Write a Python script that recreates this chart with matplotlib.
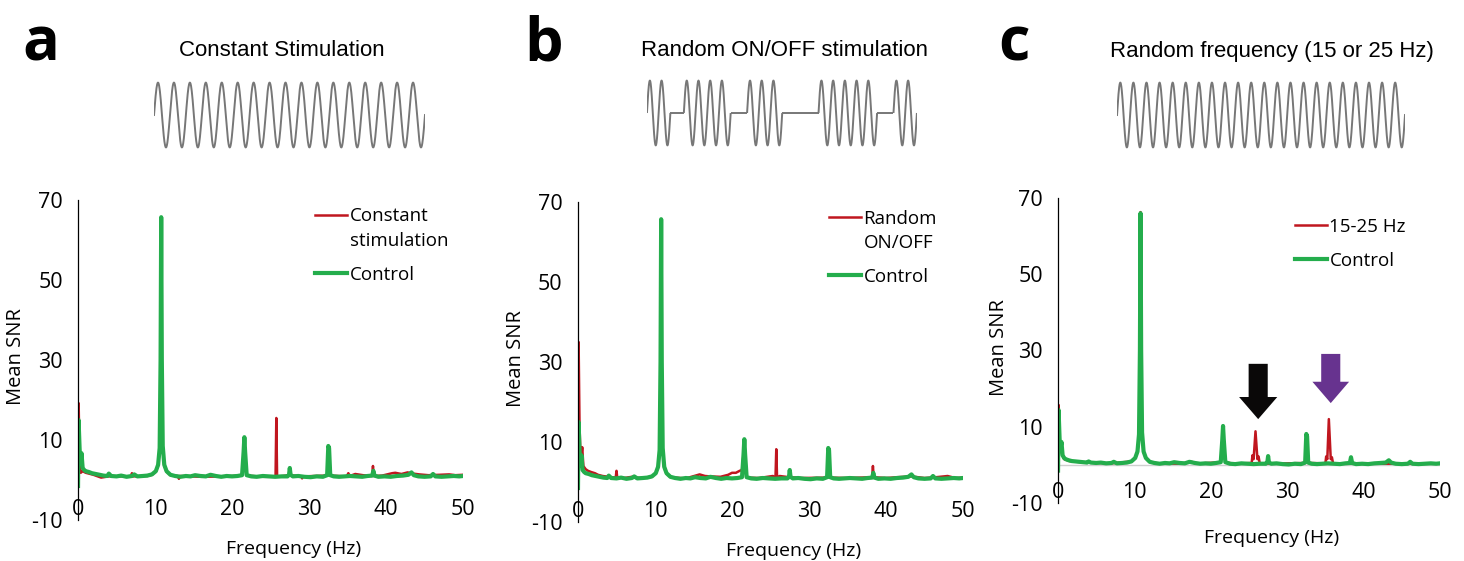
import matplotlib.pyplot as plt
import numpy as np

plt.rcParams['axes.unicode_minus'] = False
plt.rcParams['font.family'] = ['Open Sans', 'DejaVu Sans']

# Datos (Mean SNR vs frecuencia)
ctrl_f = [0.0, 0.07, 0.2, 0.3, 0.45, 0.6, 0.8, 1.0, 1.4, 1.8, 2.3, 2.8, 3.3, 3.8, 4.0, 4.3,
          5.0, 5.6, 6.3, 7.0, 7.3, 7.7, 8.4, 9.0, 9.6, 10.1, 10.4, 10.6, 10.72, 10.8, 10.88,
          11.0, 11.2, 11.5, 12.0, 12.6, 13.3, 14.0, 14.6, 15.2, 15.9, 16.6, 17.2, 17.9, 18.6,
          19.3, 20.0, 20.7, 21.3, 21.5, 21.6, 21.7, 21.9, 22.5, 23.2, 24.0, 24.8, 25.6, 26.4,
          27.2, 27.4, 27.5, 27.6, 27.9, 28.6, 29.4, 30.2, 31.0, 31.8, 32.35, 32.5, 32.6, 32.75,
          33.2, 33.9, 34.6, 35.3, 36.1, 36.9, 37.6, 38.2, 38.35, 38.5, 39.0, 39.8, 40.6, 41.4,
          42.2, 42.9, 43.3, 43.6, 44.2, 45.0, 45.8, 46.1, 46.4, 47.2, 48.0, 48.8, 49.5, 50.0]
ctrl_ab = [-1.5, 15.0, 8.0, 4.0, 6.7, 3.0, 2.5, 2.2, 2.0, 1.7, 1.5, 1.3, 1.1, 1.0, 1.6, 1.0,
           0.9, 1.1, 0.8, 1.0, 1.4, 0.9, 1.0, 1.1, 1.4, 2.2, 3.8, 8.0, 30.0, 65.7, 30.0,
           8.5, 3.8, 2.2, 1.3, 1.0, 0.8, 1.0, 0.9, 1.2, 1.0, 0.9, 1.3, 1.0, 0.8, 1.0, 0.9,
           1.0, 1.2, 7.0, 10.7, 7.0, 1.2, 0.9, 0.8, 1.0, 0.9, 0.8, 0.9, 0.9, 1.3, 3.0, 1.3,
           0.9, 1.0, 0.8, 0.7, 0.9, 0.8, 1.2, 8.5, 8.0, 1.2, 0.9, 0.8, 0.9, 1.0, 0.9, 0.8,
           1.0, 1.1, 2.3, 1.1, 0.8, 0.9, 0.8, 1.0, 1.1, 1.3, 1.9, 1.2, 0.9, 0.8, 0.9, 1.5,
           0.9, 0.8, 0.9, 1.0, 0.9, 1.0]
ctrl_c = [-1.5, 14.4, 7.0, 4.0, 6.0, 2.5, 1.8, 1.5, 1.2, 1.0, 0.9, 0.8, 0.7, 0.6, 0.9, 0.6,
          0.5, 0.6, 0.4, 0.5, 0.8, 0.4, 0.5, 0.6, 0.9, 1.8, 3.5, 8.0, 30.0, 66.0, 30.0,
          8.5, 3.5, 1.8, 0.8, 0.5, 0.3, 0.5, 0.4, 0.7, 0.5, 0.4, 0.8, 0.5, 0.3, 0.4, 0.3,
          0.5, 0.7, 6.5, 10.2, 6.5, 0.7, 0.3, 0.2, 0.4, 0.3, 0.2, 0.3, 0.3, 0.7, 2.3, 0.7,
          0.3, 0.4, 0.2, 0.1, 0.3, 0.2, 0.6, 8.1, 7.5, 0.6, 0.3, 0.2, 0.3, 0.4, 0.3, 0.2,
          0.4, 0.5, 2.0, 0.5, 0.2, 0.3, 0.2, 0.4, 0.5, 0.6, 1.2, 0.6, 0.3, 0.2, 0.3, 0.8,
          0.3, 0.2, 0.3, 0.4, 0.3, 0.4]

const_f = [0.0, 0.08, 0.2, 0.35, 0.6, 1.0, 2.0, 3.0, 4.0, 6.0, 6.9, 7.0, 7.1, 9.0, 9.6,
           10.1, 10.4, 10.6, 10.72, 10.8, 10.88, 11.0, 11.2, 11.5, 12.0, 13.0, 13.1, 13.2,
           16.0, 19.0, 21.3, 21.5, 21.6, 21.7, 21.9, 24.0, 25.65, 25.75, 25.85, 27.4, 27.5,
           27.6, 29.0, 29.1, 29.2, 32.35, 32.5, 32.7, 34.9, 35.1, 35.3, 36.0, 37.0, 38.2,
           38.3, 38.4, 39.5, 40.8, 41.2, 42.0, 42.8, 43.5, 44.3, 45.5, 47.0, 48.2, 49.0, 50.0]
const_a = [-0.5, 19.2, 4.0, 1.8, 2.2, 1.8, 1.3, 0.6, 0.9, 0.9, 0.9, 1.7, 0.9, 1.0, 1.3,
           2.1, 3.6, 7.5, 28.0, 65.0, 28.0, 8.0, 3.6, 2.1, 1.2, 1.0, 0.3, 1.0,
           0.8, 0.9, 1.1, 6.5, 10.2, 6.5, 1.1, 0.8, 0.8, 15.5, 0.8, 1.2, 2.6,
           1.2, 0.9, 0.4, 0.9, 1.1, 8.0, 1.1, 0.9, 1.7, 1.0, 1.5, 1.2, 1.0,
           3.5, 1.0, 1.1, 1.7, 1.8, 1.5, 1.9, 1.6, 1.4, 1.2, 1.3, 1.4, 1.2, 1.3]

onoff_f = [0.0, 0.08, 0.2, 0.35, 0.55, 0.7, 1.0, 1.3, 1.7, 2.2, 2.6, 3.2, 4.0, 4.9, 5.0,
           5.1, 6.0, 7.0, 8.0, 9.6, 10.1, 10.4, 10.6, 10.72, 10.8, 10.88, 11.0, 11.2, 11.5,
           12.0, 14.0, 15.8, 16.5, 17.2, 18.5, 19.5, 20.0, 20.5, 21.0, 21.3, 21.5, 21.6,
           21.7, 21.9, 23.5, 25.3, 25.65, 25.75, 25.85, 26.2, 27.4, 27.5, 27.6, 29.0, 32.35,
           32.5, 32.7, 35.0, 38.2, 38.3, 38.4, 40.0, 41.5, 43.3, 45.0, 46.5, 48.0, 49.0, 50.0]
onoff_b = [-0.5, 35.0, 14.0, 5.0, 8.7, 4.0, 3.2, 2.8, 2.5, 2.2, 1.8, 1.5, 1.3, 1.1, 2.8,
           1.1, 1.0, 1.3, 1.0, 1.3, 2.2, 3.6, 7.5, 28.0, 64.0, 28.0, 8.0, 3.6, 2.1,
           1.2, 0.9, 1.9, 1.5, 1.4, 1.3, 1.8, 2.3, 2.3, 2.8, 3.0, 7.0, 10.4,
           7.0, 1.1, 1.0, 1.5, 1.2, 8.2, 1.2, 1.5, 1.2, 2.6, 1.2, 1.0, 1.1,
           8.0, 1.1, 1.0, 1.2, 4.0, 1.2, 1.0, 1.2, 1.4, 1.0, 1.2, 1.5, 1.0, 1.1]

rand_f = [0.0, 0.08, 0.25, 0.5, 0.8, 1.5, 3.0, 5.0, 7.0, 9.6, 10.1, 10.4, 10.6, 10.72, 10.8,
          10.88, 11.0, 11.2, 11.5, 12.0, 13.0, 16.0, 17.5, 18.0, 21.3, 21.5, 21.6, 21.7, 21.9,
          23.0, 25.35, 25.45, 25.6, 25.85, 26.1, 26.25, 26.4, 28.0, 32.4, 32.55, 32.7, 35.0,
          35.1, 35.25, 35.45, 35.7, 35.85, 36.0, 38.2, 38.3, 38.4, 41.0, 44.0, 47.0, 50.0]
rand_c = [-0.5, 15.7, 5.0, 3.0, 1.5, 1.0, 0.7, 0.5, 0.4, 0.9, 1.8, 3.4, 7.5, 29.0, 66.3,
          29.0, 8.0, 3.4, 1.8, 0.8, 0.4, 0.3, 0.8, 0.3, 0.7, 6.3, 10.0, 6.3, 0.7,
          0.3, 0.5, 2.5, 1.5, 8.8, 1.5, 2.2, 0.4, 0.3, 0.5, 7.8, 0.5, 0.4,
          2.2, 1.5, 12.0, 1.5, 2.0, 0.4, 0.4, 1.8, 0.4, 0.3, 0.3, 0.3, 0.3]

# Estimulos (numero de ciclos, y segmentos ON/OFF en ciclos)
ciclos_a = 17
segmentos_b = [(1, 2), (0, 1.15), (1, 4), (0, 1.4), (1, 3), (0, 3.1), (1, 5), (0, 1.4), (1, 2)]
ciclos_c = 22

ROJO = '#c0161f'
VERDE = '#24ad4c'
GRIS = '#777777'

fig = plt.figure(figsize=(14.64, 5.61), dpi=100)


def onda_continua(ax, n):
    t = np.linspace(0, n, 1200)
    ax.plot(t, np.sin(2 * np.pi * t), color=GRIS, lw=1.4)
    ax.set_xlim(0, n)
    ax.set_ylim(-1.08, 1.08)
    ax.axis('off')


def onda_onoff(ax, segs):
    t0 = 0
    for on, n in segs:
        t = np.linspace(t0, t0 + n, int(200 * n) + 2)
        y = np.sin(2 * np.pi * (t - t0)) if on else np.zeros_like(t)
        ax.plot(t, y, color=GRIS, lw=1.4, solid_capstyle='butt')
        t0 += n
    ax.set_xlim(0, t0)
    ax.set_ylim(-1.08, 1.08)
    ax.axis('off')


def panel(rect, f_rojo, y_rojo, f_verde, y_verde, etiqueta, xlab_y, ylab_x):
    ax = fig.add_axes(rect)
    ax.plot(f_rojo, y_rojo, color=ROJO, lw=1.8, label=etiqueta)
    ax.plot(f_verde, y_verde, color=VERDE, lw=3.0, label='Control')
    ax.set_xlim(0, 50)
    ax.set_ylim(-10, 70)
    ax.set_yticks([-10, 10, 30, 50, 70])
    ax.set_xticks([0, 10, 20, 30, 40, 50])
    for s in ['top', 'right', 'bottom']:
        ax.spines[s].set_visible(False)
    ax.spines['left'].set_linewidth(0.9)
    ax.tick_params(axis='y', length=0, pad=11, labelsize=15.5)
    ax.tick_params(axis='x', length=0, pad=-15, labelsize=15.5)
    ax.set_xlabel('Frequency (Hz)', fontsize=14)
    ax.xaxis.set_label_coords(0.56, xlab_y)
    ax.set_ylabel('Mean SNR', fontsize=14.5)
    ax.yaxis.set_label_coords(ylab_x, 0.51)
    return ax


def leyenda(ax, loc, multilinea):
    leg = ax.legend(loc='upper left', bbox_to_anchor=loc, frameon=False, handlelength=1.7,
                    handletextpad=0.15, labelspacing=0.85, borderaxespad=0,
                    prop={'size': 13.5})
    lineas = leg.get_lines()
    lineas[0].set_linewidth(1.8)
    lineas[1].set_linewidth(3.0)
    for t in leg.get_texts():
        t.set_linespacing(1.45)
    if multilinea:
        y = np.asarray(lineas[0].get_ydata(), dtype=float)
        lineas[0].set_ydata(y + 10)
    return leg


# Panel a
ax1 = panel([0.0533, 0.0731, 0.263, 0.5704], const_f, const_a, ctrl_f, ctrl_ab,
            'Constant\nstimulation', -0.062, -0.135)
leyenda(ax1, (0.597, 1.0), True)

# Panel b
ax2 = panel([0.3948, 0.0695, 0.263, 0.5704], onoff_f, onoff_b, ctrl_f, ctrl_ab,
            'Random\nON/OFF', -0.062, -0.135)
leyenda(ax2, (0.632, 1.0), True)

# Panel c
ax3 = panel([0.7227, 0.1034, 0.2609, 0.5437], rand_f, rand_c, ctrl_f, ctrl_c,
            '15-25 Hz', -0.085, -0.128)
ax3.axhline(0, color='#cfcfcf', lw=1, zorder=0)
leyenda(ax3, (0.6, 0.96), False)
ax3.arrow(26.2, 26.5, 0, -14.5, width=2.5, head_width=5.0, head_length=5.8,
          length_includes_head=True, color='#0a0808', lw=0)
ax3.arrow(35.7, 29.1, 0, -12.9, width=2.5, head_width=4.8, head_length=5.6,
          length_includes_head=True, color='#67338f', lw=0)

# Ondas de estimulo
onda_continua(fig.add_axes([0.1052, 0.7326, 0.1851, 0.1248]), ciclos_a)
onda_onoff(fig.add_axes([0.4419, 0.7362, 0.1844, 0.1248]), segmentos_b)
onda_continua(fig.add_axes([0.7630, 0.7326, 0.1967, 0.1248]), ciclos_c)

# Titulos y letras
fig.text(282 / 1464, 1 - 51 / 561, 'Constant Stimulation', ha='center', va='center',
         fontsize=16, family='Liberation Sans')
fig.text(784 / 1464, 1 - 51 / 561, 'Random ON/OFF stimulation', ha='center', va='center',
         fontsize=16, family='Liberation Sans')
fig.text(1272 / 1464, 1 - 51 / 561, 'Random frequency (15 or 25 Hz)', ha='center',
         va='center', fontsize=16, family='Liberation Sans')
for x, letra in [(41, 'a'), (544, 'b'), (1014, 'c')]:
    fig.text(x / 1464, 1 - 45 / 561, letra, ha='center', va='center', fontsize=44,
             fontweight='bold')

fig.savefig('out.png', dpi=100)
